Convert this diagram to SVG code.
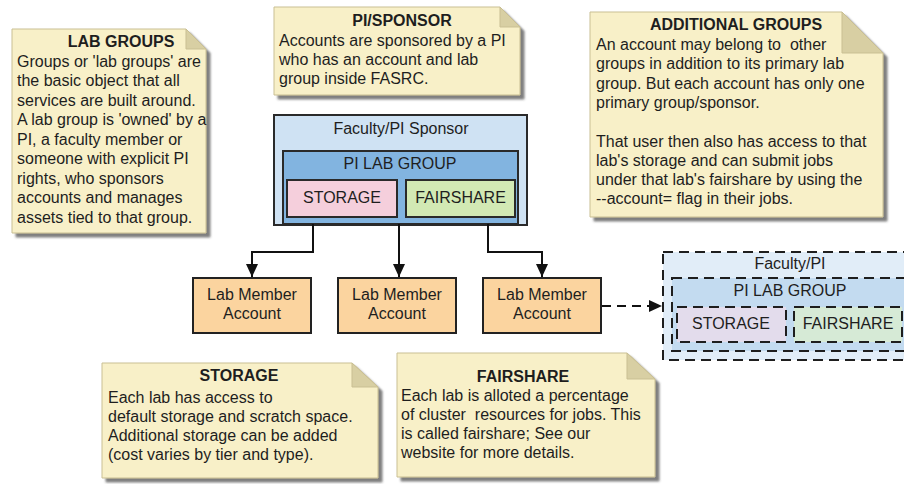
<svg xmlns="http://www.w3.org/2000/svg" width="904" height="484" viewBox="0 0 904 484">
<defs>
<filter id="sh" x="-10%" y="-10%" width="130%" height="130%">
<feDropShadow dx="4" dy="4" stdDeviation="1.2" flood-color="#555" flood-opacity="0.75"/>
</filter>
<marker id="ah" viewBox="0 0 13 12" markerWidth="13" markerHeight="12" markerUnits="userSpaceOnUse" refX="13" refY="6" orient="auto">
<path d="M0,0 L13,6 L0,12 z" fill="#111"/>
</marker>
</defs>
<style>
text{font-family:"Liberation Sans",Arial,sans-serif;font-size:16px;fill:#1e1e1e;white-space:pre}
.t{font-weight:bold;text-anchor:middle}
.c{text-anchor:middle}
.note{fill:#f8f0c8;stroke:#c9bf93;stroke-width:1;filter:url(#sh)}
.fold{fill:#d8cfa3;stroke:#c9bf93;stroke-width:1}
.box{stroke:#2a2a2a;stroke-width:2}
.dbox{stroke:#1e1e1e;stroke-width:2;stroke-dasharray:10 6}
.acct{fill:#fbd49f;stroke:#222;stroke-width:2}
.ln{fill:none;stroke:#111;stroke-width:2}
</style>

<g id="note-lab-groups">
<path class="note" d="M12,29 H186 L206,49 V233 H12 Z"/>
<path class="fold" d="M186,29 V49 H206 Z"/>
<text class="t" x="121" y="47">LAB GROUPS</text>
<text x="17" y="66.5">Groups or 'lab groups' are</text>
<text x="17" y="86">the basic object that all</text>
<text x="17" y="105.5">services are built around.</text>
<text x="17" y="125">A lab group is 'owned' by a</text>
<text x="17" y="144.5">PI, a faculty member or</text>
<text x="17" y="164">someone with explicit PI</text>
<text x="17" y="183.5">rights, who sponsors</text>
<text x="17" y="203">accounts and manages</text>
<text x="17" y="222.5">assets tied to that group.</text>
</g>

<g id="note-pi-sponsor">
<path class="note" d="M274,7 H500 L520,27 V95 H274 Z"/>
<path class="fold" d="M500,7 V27 H520 Z"/>
<text class="t" x="402" y="26">PI/SPONSOR</text>
<text x="279" y="45.5">Accounts are sponsored by a PI</text>
<text x="279" y="64.5">who has an account and lab</text>
<text x="279" y="83.5">group inside FASRC.</text>
</g>

<g id="note-additional-groups">
<path class="note" d="M590,12 H842 L883,53 V217 H590 Z"/>
<path class="fold" d="M842,12 V53 H883 Z"/>
<text class="t" x="736" y="30">ADDITIONAL GROUPS</text>
<text x="596" y="50">An account may belong to  other</text>
<text x="596" y="69.3">groups in addition to its primary lab</text>
<text x="596" y="88.6">group. But each account has only one</text>
<text x="596" y="107.9">primary group/sponsor.</text>
<text x="596" y="146.5">That user then also has access to that</text>
<text x="596" y="165.8">lab's storage and can submit jobs</text>
<text x="596" y="185.1">under that lab's fairshare by using the</text>
<text x="596" y="204.4">--account= flag in their jobs.</text>
</g>

<g id="note-storage">
<path class="note" d="M102,363 H352 L378,387 V478 H102 Z"/>
<path class="fold" d="M352,363 V387 H378 Z"/>
<text class="t" x="239" y="381">STORAGE</text>
<text x="108" y="403">Each lab has access to</text>
<text x="108" y="422">default storage and scratch space.</text>
<text x="108" y="441">Additional storage can be added</text>
<text x="108" y="460">(cost varies by tier and type).</text>
</g>

<g id="note-fairshare">
<path class="note" d="M397,353 H627 L655,379 V477 H397 Z"/>
<path class="fold" d="M627,353 V379 H655 Z"/>
<text class="t" x="523" y="382">FAIRSHARE</text>
<text x="401" y="401">Each lab is alloted a percentage</text>
<text x="401" y="420">of cluster  resources for jobs. This</text>
<text x="401" y="439">is called fairshare; See our</text>
<text x="401" y="458">website for more details.</text>
</g>

<g id="faculty-pi-sponsor">
<rect class="box" x="274" y="115" width="253" height="110" fill="#cfe2f3"/>
<text class="c" x="401" y="134">Faculty/PI Sponsor</text>
<g id="pi-lab-group">
<rect class="box" x="283" y="151" width="235" height="73" fill="#82b4e0"/>
<text class="c" x="400" y="169">PI LAB GROUP</text>
</g>
<g id="storage">
<rect class="box" x="287" y="180" width="110" height="37" fill="#f5cfdc"/>
<text class="c" x="342" y="203">STORAGE</text>
</g>
<g id="fairshare">
<rect class="box" x="406" y="180" width="109" height="37" fill="#d2e9b4"/>
<text class="c" x="460.5" y="203">FAIRSHARE</text>
</g>
</g>

<g id="account-1">
<rect class="acct" x="193" y="278" width="118" height="55"/>
<text class="c" x="252" y="300">Lab Member</text>
<text class="c" x="252" y="319">Account</text>
</g>
<g id="account-2">
<rect class="acct" x="338" y="278" width="118" height="55"/>
<text class="c" x="397" y="300">Lab Member</text>
<text class="c" x="397" y="319">Account</text>
</g>
<g id="account-3">
<rect class="acct" x="483" y="278" width="118" height="55"/>
<text class="c" x="542" y="300">Lab Member</text>
<text class="c" x="542" y="319">Account</text>
</g>

<g id="other-faculty-pi">
<rect class="dbox" x="663" y="252" width="250" height="108" fill="#e1edf8"/>
<text class="c" x="790" y="269">Faculty/PI</text>
<g id="other-pi-lab-group">
<rect class="dbox" x="672" y="278" width="240" height="73" fill="#c3dbf0"/>
<text class="c" x="790" y="296">PI LAB GROUP</text>
</g>
<g id="other-storage">
<rect class="dbox" x="677" y="307" width="109" height="35" fill="#e3dcec"/>
<text class="c" x="731" y="329">STORAGE</text>
</g>
<g id="other-fairshare">
<rect class="dbox" x="794" y="307" width="108" height="35" fill="#d6ead6"/>
<text class="c" x="848" y="329">FAIRSHARE</text>
</g>
</g>

<g id="connectors">
<path class="ln" d="M313,224 V252 H252 V277" marker-end="url(#ah)"/>
<path class="ln" d="M399,224 V277" marker-end="url(#ah)"/>
<path class="ln" d="M488,224 V252 H542 V277" marker-end="url(#ah)"/>
<path class="ln" d="M602,306 H662" stroke-dasharray="9 6" marker-end="url(#ah)"/>
</g>
</svg>
